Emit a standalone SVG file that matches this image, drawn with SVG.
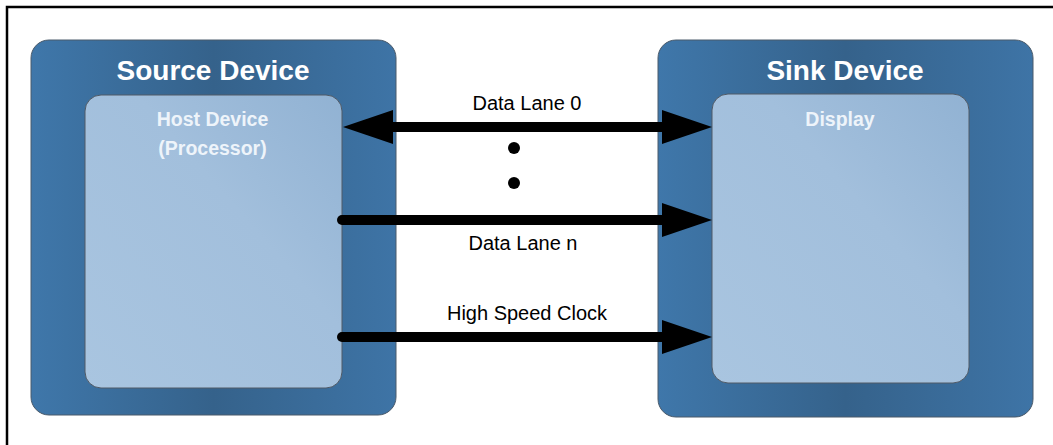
<svg xmlns="http://www.w3.org/2000/svg" width="1053" height="445" viewBox="0 0 1053 445">
  <style>
    .outer { fill: url(#gOuter); stroke: #4a5a6a; stroke-width: 1; }
    .inner { fill: url(#gInner); stroke: #505a66; stroke-width: 1; }
    .title { font-family: "Liberation Sans", Arial, sans-serif; font-weight: bold; font-size: 28px; fill: #ffffff; text-anchor: middle; }
    .sub { font-family: "Liberation Sans", Arial, sans-serif; font-weight: bold; font-size: 19.5px; fill: #eef4fa; text-anchor: middle; }
    .lbl { font-family: "Liberation Sans", Arial, sans-serif; font-size: 20px; fill: #000000; text-anchor: middle; }
    .wire { stroke: #000; stroke-width: 10; fill: none; }
  </style>
  <defs>
    <linearGradient id="gOuter" x1="0" y1="0" x2="1" y2="0">
      <stop offset="0" stop-color="#3f77aa"/>
      <stop offset="0.5" stop-color="#35628b"/>
      <stop offset="1" stop-color="#3e74a6"/>
    </linearGradient>
    <linearGradient id="gInner" x1="0" y1="1" x2="1" y2="0">
      <stop offset="0" stop-color="#a9c5e0"/>
      <stop offset="0.6" stop-color="#a2bfdc"/>
      <stop offset="1" stop-color="#91b2d3"/>
    </linearGradient>
    <marker id="arrow" viewBox="0 0 50 34" refX="5" refY="17" markerWidth="50" markerHeight="34" markerUnits="userSpaceOnUse" orient="auto-start-reverse">
      <path d="M0,0 L50,17 L0,34 Z" fill="#000"/>
    </marker>
  </defs>

  <rect x="0" y="0" width="1053" height="445" fill="#ffffff"/>
  <rect id="frame" x="7" y="7" width="1070" height="460" fill="none" stroke="#000" stroke-width="2.5"/>

  <g id="source-device">
    <rect class="outer" x="31" y="40" width="365" height="375" rx="18"/>
    <text class="title" x="213" y="80">Source Device</text>
  </g>
  <g id="host-device">
    <rect class="inner" x="85" y="95" width="257" height="293" rx="16"/>
    <text class="sub" x="212.5" y="126">Host Device</text>
    <text class="sub" x="212.5" y="155">(Processor)</text>
  </g>

  <g id="sink-device">
    <rect class="outer" x="658" y="40" width="375" height="377" rx="18"/>
    <text class="title" x="845" y="80">Sink Device</text>
  </g>
  <g id="display">
    <rect class="inner" x="712" y="94" width="257" height="289" rx="16"/>
    <text class="sub" x="840" y="126">Display</text>
  </g>

  <g id="connectors">
    <path class="wire" d="M388,127 L667,127" marker-start="url(#arrow)" marker-end="url(#arrow)"/>
    <circle cx="514" cy="148" r="6" fill="#000"/>
    <circle cx="514" cy="183" r="6" fill="#000"/>
    <path class="wire" d="M342,220 L667,220" stroke-linecap="round" marker-end="url(#arrow)"/>
    <path class="wire" d="M342,337 L667,337" stroke-linecap="round" marker-end="url(#arrow)"/>
    <text class="lbl" x="527" y="110">Data Lane 0</text>
    <text class="lbl" x="523" y="250">Data Lane n</text>
    <text class="lbl" x="527" y="320">High Speed Clock</text>
  </g>
</svg>
